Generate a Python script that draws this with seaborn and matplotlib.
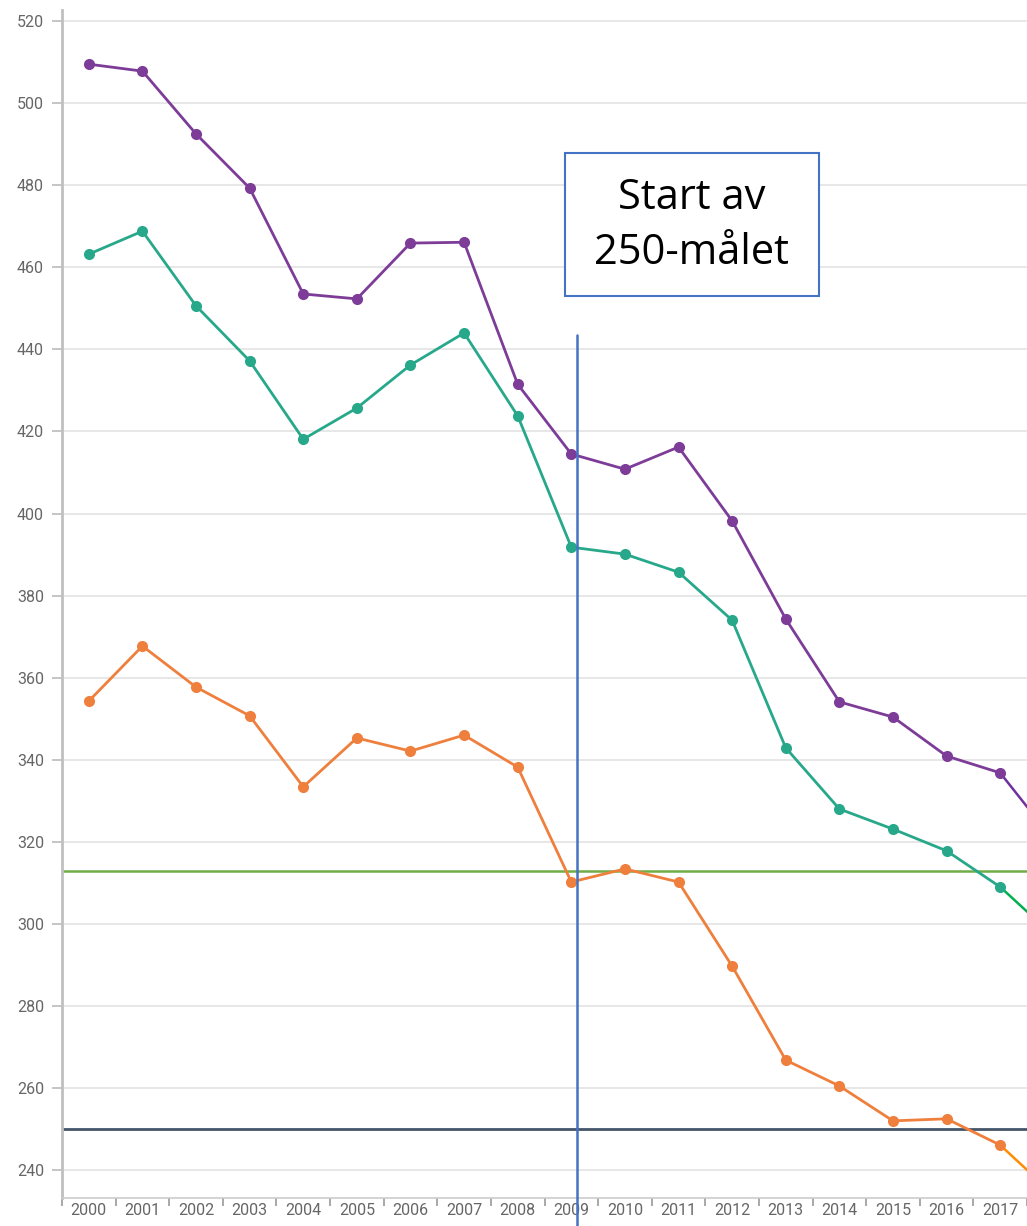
import numpy as np
import pandas as pd
import matplotlib
matplotlib.use("Agg")
import matplotlib.pyplot as plt
import seaborn as sns
from matplotlib.patches import Rectangle

years = list(range(2000, 2018))
year_labels = [str(y) for y in years]

purple_vals = [509.5, 507.8, 492.5, 479.3, 453.5, 452.3, 465.9, 466.1, 431.5,
               414.5, 410.8, 416.2, 398.2, 374.3, 354.1, 350.4, 340.9, 336.8]
green_vals = [463.2, 468.8, 450.6, 437.2, 418.1, 425.7, 436.2, 444.0, 423.8,
              391.8, 390.1, 385.7, 374.0, 342.9, 328.0, 323.1, 317.8, 309.0]
orange_vals = [354.3, 367.7, 357.7, 350.7, 333.4, 345.3, 342.1, 346.0, 338.2,
               310.2, 313.4, 310.2, 289.7, 266.8, 260.5, 252.0, 252.5, 246.1]

# continuation of each series into 2018
ext_years = [2017, 2018]
purple_ext = [336.8, 320.3]
green_ext = [309.0, 297.0]
orange_ext = [246.1, 234.0]

ref_upper = 313.0
ref_goal = 250.0
start_year = 2009.1

y_ticks = list(range(240, 521, 20))

sns.set_theme(style="white")
plt.rcParams["font.family"] = ["Roboto", "DejaVu Sans"]

fig = plt.figure(figsize=(10.27, 12.26), dpi=100)
ax = fig.add_axes([62 / 1027, 28 / 1226, 1 - 62 / 1027, (1198 - 10) / 1226])

df = pd.DataFrame({
    "year": years * 3,
    "value": purple_vals + green_vals + orange_vals,
    "series": ["a"] * 18 + ["b"] * 18 + ["c"] * 18,
})
palette = {"a": "#7d3c98", "b": "#27a88a", "c": "#ef7f3c"}

ax.set_axisbelow(True)
ax.set_yticks(y_ticks)
ax.yaxis.grid(True, color="#e3e3e3", lw=1.2)

sns.lineplot(data=df, x="year", y="value", hue="series", palette=palette,
             marker="o", markersize=8, markeredgewidth=0, lw=2.0,
             legend=False, ax=ax, zorder=3)

for vals, col in [(purple_ext, "#7030a0"), (green_ext, "#00b050"), (orange_ext, "#ff8c00")]:
    sns.lineplot(x=ext_years, y=vals, color=col, lw=1.8, ax=ax, zorder=2)

ax.axhline(ref_upper, color="#70ad47", lw=1.8, zorder=2)
ax.axhline(ref_goal, color="#44546a", lw=2.0, zorder=2)

ax.set_xlim(1999.5, 2017.5)
ax.set_ylim(233.2, 522.7)

ax.plot([start_year, start_year], [443.5, 226.0], color="#4472c4", lw=1.8,
        clip_on=False, zorder=5)

ax.add_patch(Rectangle((2008.88, 453.0), 4.74, 34.8, fill=True, facecolor="white",
                       edgecolor="#4472c4", lw=1.5, zorder=6))
ax.text(2011.25, 470.2, "Start av\n250-målet", ha="center", va="center",
        fontsize=30, family=["Open Sans", "DejaVu Sans"], color="black",
        linespacing=1.42, zorder=7)

ax.set_xticks(years)
ax.set_xticklabels(year_labels)
ax.set_xticks(np.arange(1999.5, 2017.6, 1.0), minor=True)
ax.tick_params(axis="x", which="major", length=0, pad=3.5, labelsize=11.5,
               labelcolor="#666666")
ax.tick_params(axis="x", which="minor", length=6, width=1.2, color="#999999",
               bottom=True, direction="out")
ax.tick_params(axis="y", which="major", length=7, width=1.2, color="#bbbbbb",
               pad=6, labelsize=11.5, labelcolor="#666666", left=True)

for s in ["top", "right"]:
    ax.spines[s].set_visible(False)
ax.spines["left"].set_color("#c0c0c0")
ax.spines["left"].set_linewidth(2)
ax.spines["bottom"].set_color("#cccccc")
ax.spines["bottom"].set_linewidth(1.2)

ax.set_xlabel("")
ax.set_ylabel("")

fig.savefig("out.png", dpi=100)
